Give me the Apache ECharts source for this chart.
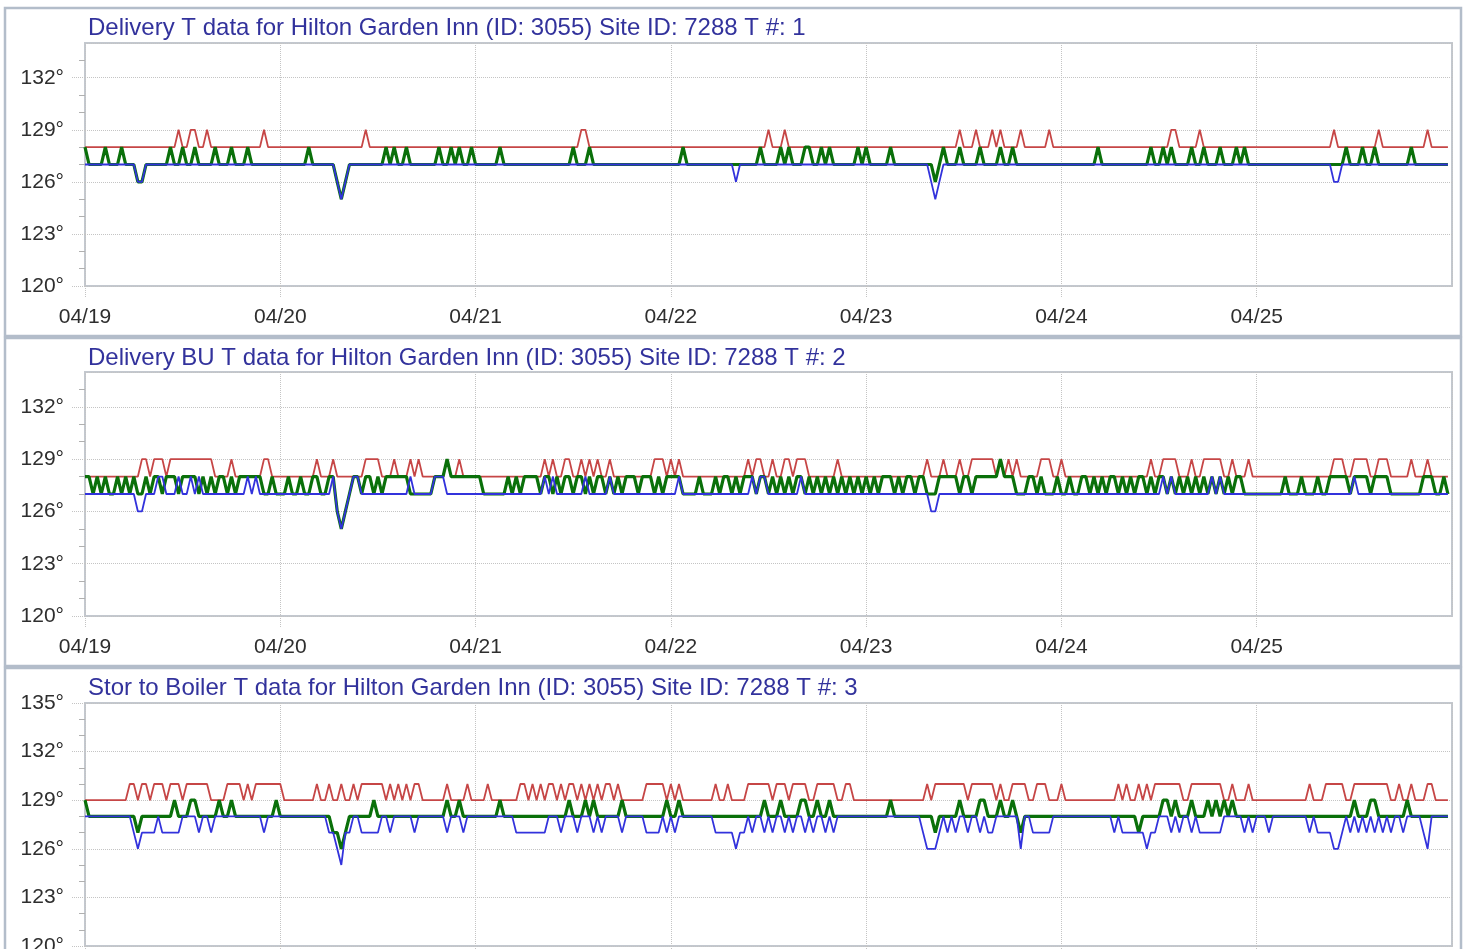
<!DOCTYPE html>
<html><head><meta charset="utf-8">
<script src="https://cdn.jsdelivr.net/npm/echarts@6/dist/echarts.min.js"></script>
<style>html,body{margin:0;padding:0;background:#fff;}#chart{width:1466px;height:949px;}</style>
</head><body><div id="chart"></div>
<script>
// ---------- labels ----------
const dayLabels = ['04/19','04/20','04/21','04/22','04/23','04/24','04/25','04/26'];
const sampleHours = 0.5; // readings every 30 minutes
const panelTitles = [
  'Delivery T data for Hilton Garden Inn (ID: 3055) Site ID: 7288 T #: 1',
  'Delivery BU T data for Hilton Garden Inn (ID: 3055) Site ID: 7288 T #: 2',
  'Stor to Boiler T data for Hilton Garden Inn (ID: 3055) Site ID: 7288 T #: 3'
];
const yMins = [120, 120, 120];
const yMaxs = [134, 134, 135];
const yStep = 3;
const minorTicks12 = [121,122,124,125,127,128,130,131,133];
const minorTicks3 = [121,122,124,125,127,128,130,131,133,134];

// ---------- panel 1 : Delivery T ----------
const p1Max = [
128,128,128,128,128,128,128,128,128,128,128,128, 128,128,128,128,128,128,128,128,128,128,128,129, 128,128,129,129,128,128,129,128,128,128,128,128, 128,128,128,128,128,128,128,128,129,128,128,128,
128,128,128,128,128,128,128,128,128,128,128,128, 128,128,128,128,128,128,128,128,128,129,128,128, 128,128,128,128,128,128,128,128,128,128,128,128, 128,128,128,128,128,128,128,128,128,128,128,128,
128,128,128,128,128,128,128,128,128,128,128,128, 128,128,128,128,128,128,128,128,128,128,128,128, 128,128,129,129,128,128,128,128,128,128,128,128, 128,128,128,128,128,128,128,128,128,128,128,128,
128,128,128,128,128,128,128,128,128,128,128,128, 128,128,128,128,128,128,128,128,128,128,128,128, 129,128,128,128,129,128,128,128,128,128,128,128, 128,128,128,128,128,128,128,128,128,128,128,128,
128,128,128,128,128,128,128,128,128,128,128,128, 128,128,128,128,128,128,128,128,128,128,128,129, 128,128,128,129,128,128,128,129,128,129,128,128, 128,128,129,128,128,128,128,128,128,129,128,128,
128,128,128,128,128,128,128,128,128,128,128,128, 128,128,128,128,128,128,128,128,128,128,128,128, 128,128,128,129,129,128,128,128,128,128,129,128, 128,128,128,128,128,128,128,128,128,128,128,128,
128,128,128,128,128,128,128,128,128,128,128,128, 128,128,128,128,128,128,128,129,128,128,128,128, 128,128,128,128,128,128,129,128,128,128,128,128, 128,128,128,128,128,128,129,128,128,128,128,128
];
const p1Min = [
127,127,127,127,127,127,127,127,127,127,127,127, 127,126,126,127,127,127,127,127,127,127,127,127, 127,127,127,127,127,127,127,127,127,127,127,127, 127,127,127,127,127,127,127,127,127,127,127,127,
127,127,127,127,127,127,127,127,127,127,127,127, 127,127,126,125,126,127,127,127,127,127,127,127, 127,127,127,127,127,127,127,127,127,127,127,127, 127,127,127,127,127,127,127,127,127,127,127,127,
127,127,127,127,127,127,127,127,127,127,127,127, 127,127,127,127,127,127,127,127,127,127,127,127, 127,127,127,127,127,127,127,127,127,127,127,127, 127,127,127,127,127,127,127,127,127,127,127,127,
127,127,127,127,127,127,127,127,127,127,127,127, 127,127,127,127,126,127,127,127,127,127,127,127, 127,127,127,127,127,127,127,127,127,127,127,127, 127,127,127,127,127,127,127,127,127,127,127,127,
127,127,127,127,127,127,127,127,127,127,127,127, 127,127,127,127,126,125,126,127,127,127,127,127, 127,127,127,127,127,127,127,127,127,127,127,127, 127,127,127,127,127,127,127,127,127,127,127,127,
127,127,127,127,127,127,127,127,127,127,127,127, 127,127,127,127,127,127,127,127,127,127,127,127, 127,127,127,127,127,127,127,127,127,127,127,127, 127,127,127,127,127,127,127,127,127,127,127,127,
127,127,127,127,127,127,127,127,127,127,127,127, 127,127,127,127,127,127,127,126,126,127,127,127, 127,127,127,127,127,127,127,127,127,127,127,127, 127,127,127,127,127,127,127,127,127,127,127,127
];
const p1Avg = [
128,127,127,127,127,128,127,127,127,128,127,127, 127,126,126,127,127,127,127,127,127,128,127,127, 128,127,127,128,127,127,127,127,128,127,127,127, 128,127,127,127,128,127,127,127,127,127,127,127,
127,127,127,127,127,127,127,128,127,127,127,127, 127,127,126,125,126,127,127,127,127,127,127,127, 127,127,128,127,128,127,127,128,127,127,127,127, 127,127,127,128,127,127,128,127,128,127,127,128,
127,127,127,127,127,127,128,127,127,127,127,127, 127,127,127,127,127,127,127,127,127,127,127,127, 128,127,127,127,128,127,127,127,127,127,127,127, 127,127,127,127,127,127,127,127,127,127,127,127,
127,127,127,128,127,127,127,127,127,127,127,127, 127,127,127,127,127,127,127,127,127,127,128,127, 127,127,127,128,127,128,127,127,127,128,128,127, 127,128,127,128,127,127,127,127,127,127,128,127,
128,127,127,127,127,127,128,127,127,127,127,127, 127,127,127,127,127,126,127,128,127,127,127,128, 127,127,127,127,128,127,127,127,127,128,127,127, 128,127,127,127,127,127,127,127,127,127,127,127,
127,127,127,127,127,127,127,127,127,128,127,127, 127,127,127,127,127,127,127,127,127,127,128,127, 127,128,127,128,127,127,127,127,128,127,127,128, 127,127,127,128,127,127,127,128,127,128,127,127,
127,127,127,127,127,127,127,127,127,127,127,127, 127,127,127,127,127,127,127,127,127,127,128,127, 127,127,128,127,127,128,127,127,127,127,127,127, 127,127,128,127,127,127,127,127,127,127,127,127
];

// ---------- panel 2 : Delivery BU T ----------
const p2Max = [
128,128,128,128,128,128,128,128,128,128,128,128, 128,128,129,129,128,129,129,129,128,129,129,129, 129,129,129,129,129,129,129,129,128,128,128,128, 129,128,128,128,128,128,128,128,129,129,128,128,
128,128,128,128,128,128,128,128,128,129,128,128, 128,129,128,128,128,128,128,128,128,129,129,129, 129,128,128,128,129,128,128,128,129,128,129,128, 128,128,128,128,128,129,128,128,129,128,128,128,
128,128,128,128,128,128,128,128,128,128,128,128, 128,128,128,128,128,129,128,129,128,128,129,129, 128,128,129,128,129,128,129,128,128,129,128,128, 128,128,128,128,128,128,128,128,129,129,129,128,
129,128,129,128,128,128,128,128,128,128,128,128, 128,128,128,128,128,128,128,129,128,129,129,128, 128,129,128,128,129,129,128,129,129,129,128,128, 128,128,128,128,128,129,128,128,128,128,128,128,
128,128,128,128,128,128,128,128,128,128,128,128, 128,128,128,129,128,128,128,129,128,128,128,129, 128,128,129,129,129,129,129,129,128,129,128,129, 128,129,128,128,128,128,128,129,129,129,128,128,
129,128,128,128,128,128,128,128,128,128,128,128, 128,128,128,128,128,128,128,128,128,128,129,128, 128,129,129,129,129,128,128,128,129,128,128,129, 129,129,129,129,128,128,129,128,128,128,129,128,
128,128,128,128,128,128,128,128,128,128,128,128, 128,128,128,128,128,128,128,129,129,129,128,128, 129,129,129,129,128,128,129,129,129,128,128,128, 128,128,129,128,128,128,129,128,128,128,128,128
];
const p2Min = [
127,127,127,127,127,127,127,127,127,127,127,127, 127,126,126,127,127,127,128,128,127,127,127,128, 127,127,128,127,128,127,127,127,127,127,127,127, 127,127,127,127,128,127,128,127,127,127,127,127,
127,127,127,127,127,127,127,127,127,127,127,127, 127,128,126,125,126,127,128,128,127,127,127,127, 127,127,127,127,127,127,127,127,128,127,127,127, 127,127,128,128,128,127,127,127,127,127,127,127,
127,127,127,127,127,127,127,127,127,127,127,127, 127,127,127,127,127,128,127,128,127,127,127,127, 127,127,127,128,127,127,127,127,127,128,127,127, 127,127,127,127,127,127,127,127,127,127,127,127,
127,127,128,127,127,127,127,127,127,127,127,127, 127,127,127,127,127,127,127,127,128,127,128,128, 127,127,127,127,127,127,127,127,128,127,127,127, 127,127,127,127,127,127,127,127,127,127,127,127,
127,127,127,127,127,127,127,127,127,127,127,127, 127,127,127,127,126,126,127,127,127,127,127,127, 127,127,127,127,127,127,127,127,127,127,127,127, 127,127,127,127,127,127,127,127,127,127,127,127,
127,127,127,127,127,127,127,127,127,127,127,127, 127,127,127,127,127,127,127,127,127,127,127,127, 127,128,127,128,127,127,127,127,127,127,127,127, 127,128,127,128,127,127,127,127,127,127,127,127,
127,127,127,127,127,127,127,127,127,127,127,127, 127,127,127,127,127,127,127,127,127,127,127,127, 128,127,127,127,127,127,127,127,127,127,127,127, 127,127,127,127,127,127,127,127,127,127,127,127
];
const p2Avg = [
128,128,127,128,127,128,127,127,128,127,128,127, 128,127,127,128,127,128,128,127,128,128,128,127, 128,128,128,128,127,128,127,128,127,128,128,127, 128,127,128,128,128,128,128,128,127,127,128,127,
127,127,128,127,127,128,127,127,128,128,127,127, 128,128,126,125,126,127,128,128,127,128,128,127, 128,127,128,128,128,128,128,128,127,127,127,127, 127,127,128,128,128,129,128,128,128,128,128,128,
128,128,127,127,127,127,127,127,128,127,128,127, 128,128,128,128,127,128,128,127,128,127,128,128, 127,128,128,127,128,127,128,128,127,128,127,128, 127,128,128,128,127,128,128,128,127,128,127,128,
128,128,128,127,127,127,127,128,127,127,127,128, 127,128,128,127,128,127,128,128,128,127,128,128, 127,128,127,128,127,128,127,128,128,127,128,127, 128,127,128,127,128,127,128,127,128,127,128,127,
128,127,128,127,128,128,128,127,128,127,128,128, 127,128,128,127,127,127,128,128,128,128,128,127, 128,128,127,128,128,128,128,128,128,129,128,128, 128,127,127,127,128,128,127,128,127,127,127,128,
127,127,128,127,127,128,128,127,128,127,128,127, 128,128,127,128,127,128,127,128,128,127,128,127, 128,128,127,128,127,128,127,128,127,128,127,128, 127,128,127,128,127,128,127,128,128,127,127,127,
127,127,127,127,127,127,127,128,127,127,127,128, 127,127,127,128,127,127,128,128,128,128,128,127, 128,128,128,128,127,128,128,128,128,127,127,127, 127,127,127,127,127,128,128,128,127,127,128,127
];

// ---------- panel 3 : Stor to Boiler T ----------
const p3Max = [
129,129,129,129,129,129,129,129,129,129,129,130, 130,129,130,130,129,130,130,130,129,130,130,130, 129,130,130,130,130,130,130,129,129,129,129,130, 130,130,130,129,130,129,130,130,130,130,130,130,
130,129,129,129,129,129,129,129,129,130,129,129, 130,129,129,130,129,129,130,129,130,130,130,130, 130,130,129,130,129,130,129,130,129,130,130,129, 129,129,129,129,129,130,129,129,129,129,130,129,
129,129,129,130,129,129,129,129,129,129,129,130, 130,129,130,129,130,129,130,130,129,130,129,130, 130,129,130,129,130,129,130,129,130,130,129,130, 129,129,129,129,129,129,130,130,130,130,130,129,
130,129,130,129,129,129,129,129,129,129,129,130, 129,129,130,129,129,129,129,130,130,130,130,130, 130,129,130,130,130,129,130,130,130,130,129,129, 130,130,130,130,130,129,129,130,130,129,129,129,
129,129,129,129,129,129,129,129,129,129,129,129, 129,129,129,130,129,130,130,130,130,130,130,130, 130,129,130,130,130,130,130,130,129,130,129,129, 130,130,130,130,129,129,130,130,130,129,129,129,
130,129,129,129,129,129,129,129,129,129,129,129, 129,129,130,129,130,129,129,130,129,130,129,130, 130,130,130,130,130,130,129,129,130,130,130,130, 130,130,130,130,129,129,130,129,129,129,130,129,
129,129,129,129,129,129,129,129,129,129,129,129, 129,130,129,129,129,130,130,130,130,130,129,129, 130,130,130,130,130,130,130,130,130,129,129,130, 129,129,130,129,129,129,130,130,129,129,129,129
];
const p3Min = [
128,128,128,128,128,128,128,128,128,128,128,128, 127,126,127,127,127,127,128,127,127,127,127,127, 128,128,128,128,127,128,128,127,128,128,128,128, 128,128,128,128,128,128,128,128,127,128,128,128,
128,128,128,128,128,128,128,128,128,128,128,128, 127,127,126,125,127,127,128,128,127,127,127,127, 127,128,128,127,128,128,128,128,128,127,128,128, 128,128,128,128,128,127,128,128,128,127,128,128,
128,128,128,128,128,128,128,128,128,128,127,127, 127,127,127,127,127,127,128,128,128,127,128,128, 128,127,128,128,128,127,128,127,128,128,128,128, 127,128,128,128,128,128,127,127,127,127,128,127,
128,127,128,128,128,128,128,128,128,128,128,127, 127,127,127,127,126,127,127,128,127,128,128,127, 128,127,128,128,127,128,127,128,128,127,128,127, 128,128,127,128,127,128,128,128,128,128,128,128,
128,128,128,128,128,128,128,128,128,128,128,128, 128,128,127,126,126,126,127,128,127,128,127,128, 128,127,128,128,127,128,127,127,128,128,128,128, 128,128,126,128,128,127,127,127,127,127,128,128,
128,128,128,128,128,128,128,128,128,128,128,128, 128,127,128,127,127,127,127,127,127,126,127,127, 128,128,128,127,128,127,128,128,127,128,127,127, 127,127,127,127,128,128,128,128,128,127,128,127,
128,128,128,127,128,128,128,128,128,128,128,128, 128,127,128,127,127,127,127,126,126,127,128,127, 128,127,128,127,128,127,128,127,128,127,128,128, 127,128,128,128,128,127,126,128,128,128,128,128
];
const p3Avg = [
129,128,128,128,128,128,128,128,128,128,128,128, 128,127,128,128,128,128,128,128,128,128,129,128, 128,128,129,129,128,128,128,128,128,129,128,128, 129,128,128,128,128,128,128,128,128,128,128,129,
128,128,128,128,128,128,128,128,128,128,128,128, 128,127,127,126,127,128,128,128,128,128,128,129, 128,128,128,128,128,128,128,128,128,128,128,128, 128,128,128,128,128,129,128,128,129,128,128,128,
128,128,128,128,128,128,129,128,128,128,128,128, 128,128,128,128,128,128,128,128,128,128,128,129, 128,128,128,129,128,129,128,128,128,128,128,128, 129,128,128,128,128,128,128,128,128,128,128,129,
128,128,129,128,128,128,128,128,128,128,128,128, 128,128,128,128,128,128,128,128,128,128,128,129, 128,128,128,129,128,128,128,128,129,129,128,128, 129,128,128,129,128,128,128,128,128,128,128,128,
128,128,128,128,128,128,129,128,128,128,128,128, 128,128,128,128,128,127,128,128,128,128,128,129, 128,128,128,128,129,129,128,128,128,129,128,128, 129,128,127,128,128,128,128,128,128,128,128,128,
128,128,128,128,128,128,128,128,128,128,128,128, 128,128,128,128,128,128,128,127,128,128,128,128, 128,129,129,128,129,128,128,128,129,128,128,128, 129,128,129,128,129,128,129,128,128,128,128,128,
128,128,128,128,128,128,128,128,128,128,128,128, 128,128,128,128,128,128,128,128,128,128,128,128, 129,128,128,128,129,129,128,128,128,128,128,128, 128,129,128,128,128,128,128,128,128,128,128,128
];

// ---------- styling ----------
const panels = [
  {max: p1Max, min: p1Min, avg: p1Avg},
  {max: p2Max, min: p2Min, avg: p2Avg},
  {max: p3Max, min: p3Min, avg: p3Avg}
];
const gridTops = [43, 372, 703];
const gridHeights = [243, 244, 243];
const titleTops = [16, 346, 676];
const frameTops = [8, 338, 668];
const colMax = '#c64646', colAvg = '#0a700a', colMin = '#3232dc';
const FONT = '"Liberation Sans", Arial, sans-serif';
const dotted = {color: '#c4c4c4', type: 'dotted', width: 1};

const toPts = arr => arr.map((v, i) => [i * sampleHours, v]);
const totalHours = (dayLabels.length - 1) * 24;

const option = {
  animation: false,
  backgroundColor: '#fff',
  title: panelTitles.map((t, k) => ({
    text: t, left: 88, top: titleTops[k], padding: 0,
    textStyle: {fontFamily: FONT, fontSize: 24, fontWeight: 'normal', color: '#32329c'}
  })),
  graphic: frameTops.map(y => ({
    type: 'rect', silent: true, z: -1,
    shape: {x: 5, y: y, width: 1456, height: 328},
    style: {fill: 'none', stroke: '#b3bdca', lineWidth: 2.5}
  })),
  grid: gridTops.map((t, k) => ({
    left: 85, right: 14, top: t, height: gridHeights[k],
    outerBoundsMode: 'none', containLabel: false,
    show: true, borderColor: '#c3c8cf', borderWidth: 2, backgroundColor: '#fff'
  })),
  xAxis: [0, 1, 2].map(k => ({
    type: 'value', gridIndex: k, min: 0, max: totalHours, interval: 24,
    axisLine: {show: false},
    axisTick: {show: true, length: 12, lineStyle: dotted},
    splitLine: {show: true, lineStyle: dotted},
    axisLabel: {
      showMaxLabel: false, margin: 21, fontFamily: FONT, fontSize: 21, color: '#2e2e2e',
      formatter: v => dayLabels[Math.round(v / 24)]
    }
  })),
  yAxis: [0, 1, 2].map(k => ({
    type: 'value', gridIndex: k, min: yMins[k], max: yMaxs[k], interval: yStep, position: 'left',
    axisLine: {show: false},
    axisTick: {show: true, length: 13, lineStyle: dotted},
    splitLine: {show: true, lineStyle: dotted},
    axisLabel: {
      showMaxLabel: k === 2, margin: 21, fontFamily: FONT, fontSize: 21, color: '#2e2e2e',
      formatter: v => v + '°'
    }
  })).concat([0, 1, 2].map(k => ({
    type: 'value', gridIndex: k, min: yMins[k], max: yMaxs[k], position: 'left', offset: 0,
    axisLine: {show: false},
    axisTick: {show: true, length: 6, customValues: k === 2 ? minorTicks3 : minorTicks12,
      lineStyle: {color: '#b0b0b0', width: 1}},
    axisLabel: {show: false},
    splitLine: {show: false}
  }))),
  series: []
};

panels.forEach((p, k) => {
  const base = {type: 'line', xAxisIndex: k, yAxisIndex: k, symbol: 'none', showSymbol: false,
    silent: true, clip: true};
  option.series.push(Object.assign({}, base, {name: 'max', data: toPts(p.max), z: 2,
    lineStyle: {color: colMax, width: 1.8}}));
  option.series.push(Object.assign({}, base, {name: 'avg', data: toPts(p.avg), z: 3,
    lineStyle: {color: colAvg, width: 3.2}}));
  option.series.push(Object.assign({}, base, {name: 'min', data: toPts(p.min), z: 4,
    lineStyle: {color: colMin, width: 1.8}}));
});

const chart = echarts.init(document.getElementById('chart'), null, {renderer: 'canvas'});
chart.setOption(option);
</script>
</body></html>
